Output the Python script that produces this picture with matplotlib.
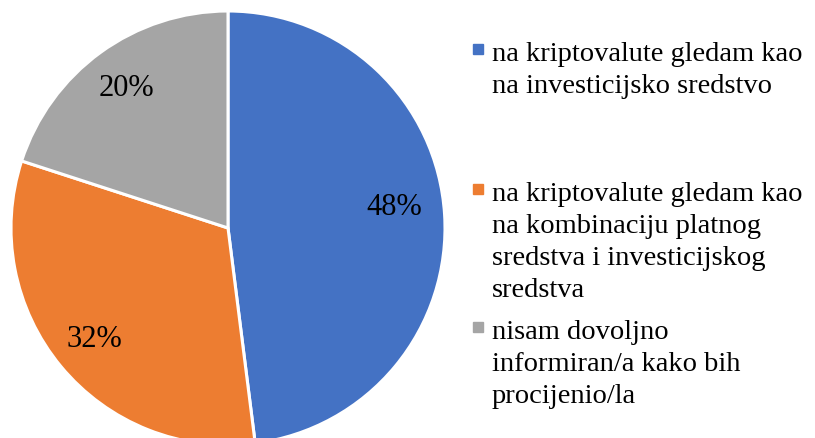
import matplotlib.pyplot as plt
from matplotlib.patches import Rectangle

labels = ['na kriptovalute gledam kao\nna investicijsko sredstvo',
          'na kriptovalute gledam kao\nna kombinaciju platnog\nsredstva i investicijskog\nsredstva',
          'nisam dovoljno\ninformiran/a kako bih\nprocijenio/la']
shares = [48, 32, 20]
colors = ['#4472C4', '#ED7D31', '#A5A5A5']

W, H = 815, 439
fig = plt.figure(figsize=(W / 100, H / 100), dpi=100)
plt.rcParams['font.family'] = ['Liberation Serif', 'DejaVu Serif']

# pie: centre (228, 229) px, radius 217 px
cx, cy, r = 228, 229, 217
ax = fig.add_axes([(cx - r) / W, (H - cy - r) / H, 2 * r / W, 2 * r / H])
wedges, texts, autotexts = ax.pie(shares, colors=colors, startangle=90, counterclock=False,
                                  autopct='%d%%', pctdistance=0.8,
                                  wedgeprops=dict(edgecolor='white', linewidth=2.2),
                                  textprops=dict(fontsize=22, color='black'))
# Excel sits the big label a little higher
px, py = autotexts[0].get_position()
autotexts[0].set_position((px - 0.03, py + 0.05))
ax.set_xlim(-1, 1)
ax.set_ylim(-1, 1)

# legend drawn by hand, items evenly spaced
item_y = [50, 190, 328]
for lab, col, y in zip(labels, colors, item_y):
    fig.add_artist(Rectangle((473 / W, 1 - (y + 5) / H), 10 / W, 10 / H,
                             transform=fig.transFigure, color=col))
    fig.text(492 / W, 1 - (y - 8) / H, lab, fontsize=20.5, va='top', ha='left',
             linespacing=1.37)

fig.savefig('out.png', dpi=100)
